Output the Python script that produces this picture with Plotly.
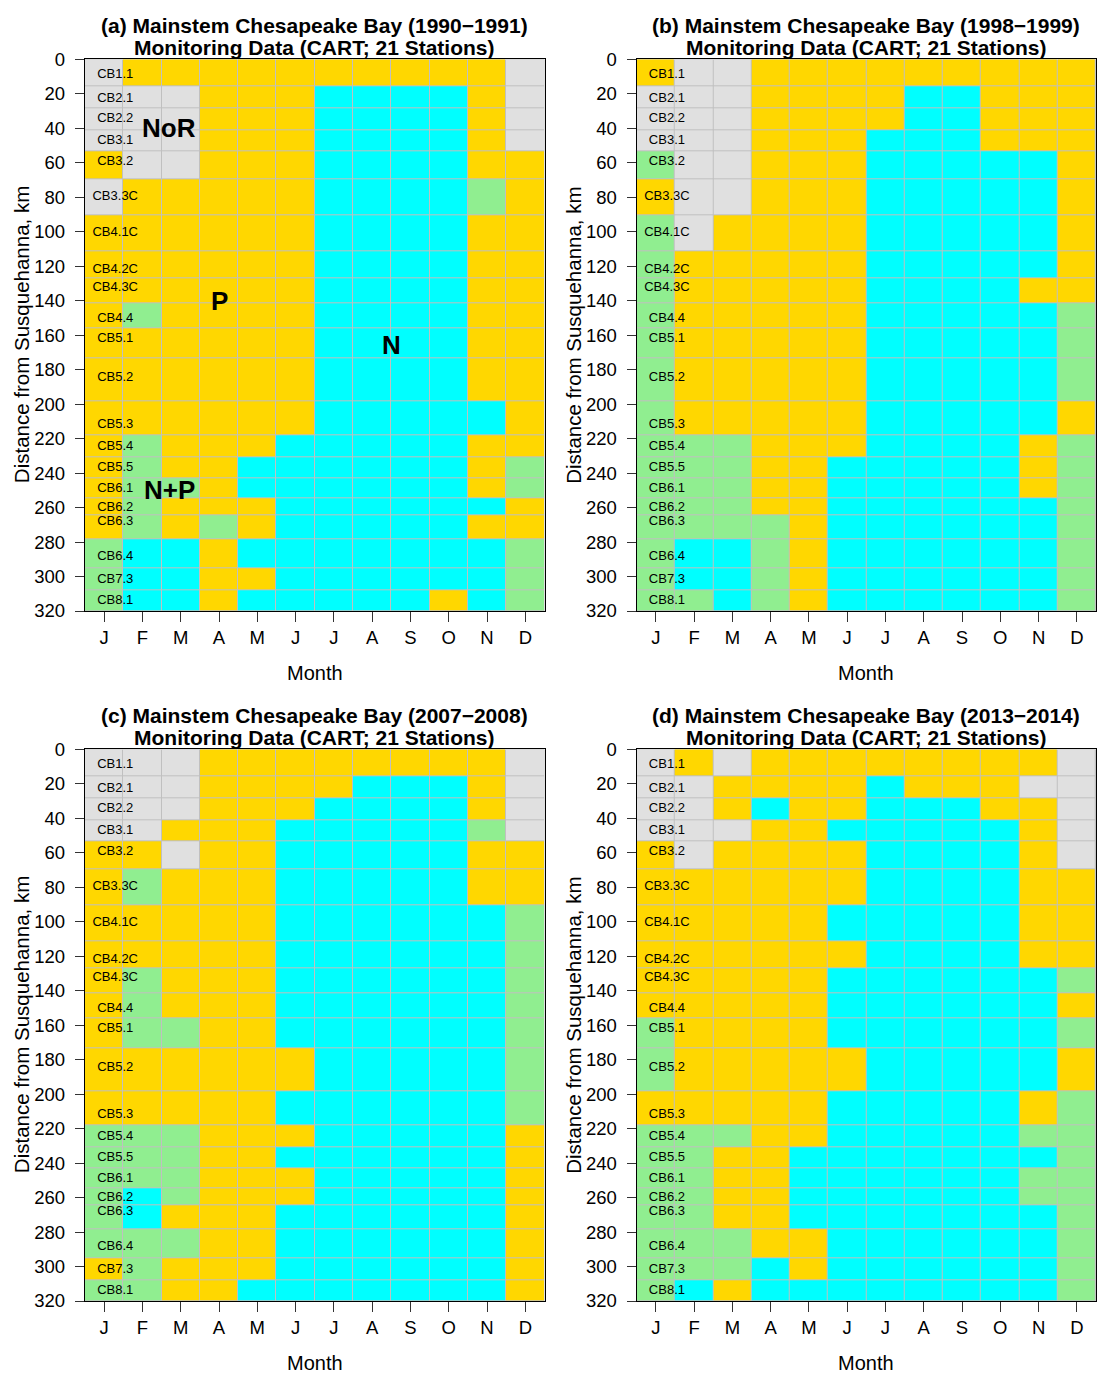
import plotly.graph_objects as go

W, H = 1097, 1373

# ---------------- data ----------------
months = ["J", "F", "M", "A", "M", "J", "J", "A", "S", "O", "N", "D"]
stations = ["CB1.1", "CB2.1", "CB2.2", "CB3.1", "CB3.2", "CB3.3C", "CB4.1C", "CB4.2C",
            "CB4.3C", "CB4.4", "CB5.1", "CB5.2", "CB5.3", "CB5.4", "CB5.5", "CB6.1",
            "CB6.2", "CB6.3", "CB6.4", "CB7.3", "CB8.1"]
station_km = [8.7, 22.7, 34.4, 47.4, 59.2, 80.0, 100.4, 122.0, 132.6, 150.3, 162.3,
              184.5, 211.7, 224.5, 237.0, 249.0, 260.2, 268.5, 288.6, 302.0, 314.0]
y_ticks = list(range(0, 321, 20))
bay_length_km = 320

# limitation class per station (rows) and month (columns J..D)
# G = no relationship (NoR), P = phosphorus, N = nitrogen, B = both (N+P)
limit_1990 = ["GPPPPPPPPPPG", "GGGPPPNNNNPG", "GGGPPPNNNNPG", "GGGPPPNNNNPG",
              "PGGPPPNNNNPP", "GPPPPPNNNNBP", "PPPPPPNNNNPP", "PPPPPPNNNNPP",
              "PPPPPPNNNNPP", "PBPPPPNNNNPP", "PPPPPPNNNNPP", "PPPPPPNNNNPP",
              "PPPPPPNNNNNP", "PBPPPNNNNNPP", "PBPPNNNNNNPB", "PBBPNNNNNNPB",
              "PBPPPNNNNNNP", "PBPBPNNNNNPP", "BNNPNNNNNNNB", "BNNPPNNNNNNB",
              "BNNPNNNNNPNB"]
limit_1998 = ["PGGPPPPPPPPP", "GGGPPPPNNPPP", "GGGPPPPNNPPP", "GGGPPPNNNPPP",
              "BGGPPPNNNNNP", "PGGPPPNNNNNP", "BGPPPPNNNNNP", "BPPPPPNNNNNP",
              "BPPPPPNNNNPP", "BPPPPPNNNNNB", "BPPPPPNNNNNB", "BPPPPPNNNNNB",
              "BPPPPPNNNNNP", "BBBPPPNNNNPB", "BBBPPNNNNNPB", "BBBPPNNNNNPB",
              "BBBPPNNNNNNB", "BBBBPNNNNNNB", "BNNBPNNNNNNB", "BNNBPNNNNNNB",
              "BBNBPNNNNNNB"]
limit_2007 = ["GGGPPPPPPPPG", "GGGPPPPNNNPG", "GGGPPPNNNNPG", "GGPPPNNNNNBG",
              "PPGPPNNNNNPP", "PBPPPNNNNNPP", "PPPPPNNNNNNB", "PPPPPNNNNNNB",
              "PBPPPNNNNNNB", "PBPPPNNNNNNB", "PBBPPNNNNNNB", "PPPPPPNNNNNB",
              "PPPPPNNNNNNB", "BBBPPPNNNNNP", "BBBPPNNNNNNP", "BBBPPPNNNNNP",
              "BNBPPPNNNNNP", "BNPPPNNNNNNP", "BBBPPNNNNNNP", "PBPPPNNNNNNP",
              "BBPPNNNNNNNP"]
limit_2013 = ["GPGPPPPPPPPG", "GGPPPPNPPPGG", "GGPNPPNNNPPG", "GGGPPNNNNNPG",
              "PGPPPPNNNNPG", "PPPPPPNNNNPP", "PPPPPNNNNNPP", "PPPPPPNNNNPP",
              "PPPPPNNNNNNB", "PPPPPNNNNNNP", "BPPPPNNNNNNB", "BPPPPPNNNNNP",
              "PPPPPNNNNNPB", "BBBPPNNNNNBB", "BBPPNNNNNNNB", "BBPPNNNNNNBB",
              "BBPPNNNNNNBB", "BBPPNNNNNNNB", "BBBPPNNNNNNB", "BBBNPNNNNNNB",
              "BNPNNNNNNNNB"]

panel_titles = ["(a) Mainstem Chesapeake Bay (1990\u22121991)",
                "(b) Mainstem Chesapeake Bay (1998\u22121999)",
                "(c) Mainstem Chesapeake Bay (2007\u22122008)",
                "(d) Mainstem Chesapeake Bay (2013\u22122014)"]
subtitle = "Monitoring Data (CART; 21 Stations)"

# region labels drawn in panel (a): text, month position, km position
region_labels = [("NoR", 2.7, 40), ("P", 4.0, 140), ("N", 8.5, 166), ("N+P", 2.7, 250)]

# ---------------- styling ----------------
class_code = {"G": 0, "P": 1, "N": 2, "B": 3}
class_colors = ["#E0E0E0", "#FFD700", "#00FFFF", "#90EE90"]
colorscale = [[0.0, class_colors[0]], [1 / 3, class_colors[1]],
              [2 / 3, class_colors[2]], [1.0, class_colors[3]]]
FONT = "Liberation Sans, Arial, Helvetica, sans-serif"

# panel plot areas in pixels: left, right, top, bottom
panel_px = [(85, 544.5, 59.3, 611), (636.7, 1096, 59.3, 611),
            (85, 544.5, 749.3, 1301), (636.7, 1096, 749.3, 1301)]

# station cell edges: midpoints between stations, bounded by 0 and bay length
edges = [0.0] + [(a + b) / 2 for a, b in zip(station_km[:-1], station_km[1:])] + [bay_length_km]

fig = go.Figure()
annotations = []
panels = [limit_1990, limit_1998, limit_2007, limit_2013]

for i, (rows, title, (l, r, t, b)) in enumerate(zip(panels, panel_titles, panel_px)):
    n = i + 1
    xa = "x" if n == 1 else f"x{n}"
    ya = "y" if n == 1 else f"y{n}"
    z = [[class_code[c] for c in row] for row in rows]
    fig.add_trace(go.Heatmap(
        x=list(range(1, 13)), y=edges, z=z,
        zmin=0, zmax=3, colorscale=colorscale, showscale=False,
        xgap=1, ygap=1, hoverinfo="skip", xaxis=xa, yaxis=ya))
    fig.add_trace(go.Scatter(
        x=[1.29] * len(stations), y=station_km, text=stations, mode="text",
        textposition="middle center", textfont=dict(family=FONT, size=13, color="black"),
        hoverinfo="skip", showlegend=False, cliponaxis=False, xaxis=xa, yaxis=ya))

    dom_x = [l / W, r / W]
    dom_y = [1 - b / H, 1 - t / H]
    xkey = "xaxis" if n == 1 else f"xaxis{n}"
    ykey = "yaxis" if n == 1 else f"yaxis{n}"
    fig.update_layout(**{
        xkey: dict(domain=dom_x, anchor=ya, range=[0.5, 12.5],
                   tickvals=list(range(1, 13)), ticktext=months,
                   ticks="outside", ticklen=10, tickwidth=1, tickcolor="#333333",
                   ticklabelstandoff=0,
                   showline=True, mirror=True, linecolor="black", linewidth=1.3,
                   showgrid=False, zeroline=False,
                   tickfont=dict(family=FONT, size=18.5, color="black")),
        ykey: dict(domain=dom_y, anchor=xa, range=[bay_length_km, 0],
                   tickvals=y_ticks, ticks="outside", ticklen=9, tickwidth=1,
                   tickcolor="#333333", ticklabelstandoff=6,
                   showline=True, mirror=True, linecolor="black", linewidth=1.3,
                   showgrid=False, zeroline=False,
                   tickfont=dict(family=FONT, size=18.5, color="black")),
    })

    cx = (l + r) / 2 / W
    annotations.append(dict(text=f"<b>{title}</b>", xref="paper", yref="paper",
                            x=cx, y=1 - (t - 33.5) / H, xanchor="center", yanchor="middle",
                            showarrow=False, font=dict(family=FONT, size=21, color="black")))
    annotations.append(dict(text=f"<b>{subtitle}</b>", xref="paper", yref="paper",
                            x=cx, y=1 - (t - 11.4) / H, xanchor="center", yanchor="middle",
                            showarrow=False, font=dict(family=FONT, size=21, color="black")))
    annotations.append(dict(text="Month", xref="paper", yref="paper",
                            x=cx, y=1 - (b + 61.5) / H, xanchor="center", yanchor="middle",
                            showarrow=False, font=dict(family=FONT, size=20, color="black")))
    annotations.append(dict(text="Distance from Susquehanna, km", xref="paper", yref="paper",
                            x=(l - 64) / W, y=1 - (t + b) / 2 / H, xanchor="center",
                            yanchor="middle", textangle=-90, showarrow=False,
                            font=dict(family=FONT, size=20.5, color="black")))

for txt, mx, km in region_labels:
    annotations.append(dict(text=f"<b>{txt}</b>", xref="x", yref="y", x=mx, y=km,
                            xanchor="center", yanchor="middle", showarrow=False,
                            font=dict(family=FONT, size=26, color="black")))

fig.update_layout(
    width=W, height=H, margin=dict(l=0, r=0, t=0, b=0, autoexpand=False),
    paper_bgcolor="white", plot_bgcolor="#C0C0C0",
    showlegend=False, annotations=annotations,
    font=dict(family=FONT, color="black"),
)

fig.write_html("out.html", config={"displayModeBar": False},
               post_script="document.body.style.margin='0px';document.body.style.padding='0px';")
